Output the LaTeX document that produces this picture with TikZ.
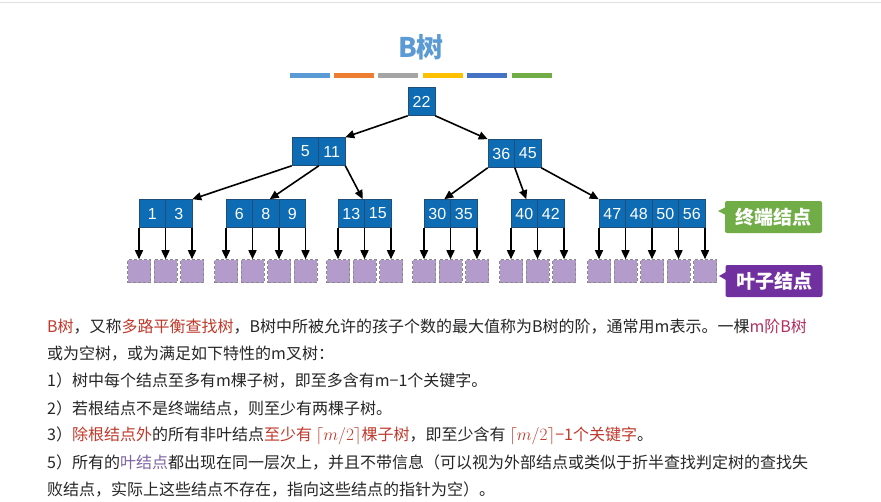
\documentclass[tikz,border=0pt]{standalone}
\usepackage{fontspec}
\setmainfont{Noto Sans CJK SC}
\newfontfamily\keyfont{Liberation Sans}
\usetikzlibrary{arrows.meta,calc}
\definecolor{keyblue}{HTML}{0D6CB4}
\definecolor{keyborder}{HTML}{1F4E79}
\definecolor{leafpurple}{HTML}{B39CCC}
\definecolor{leafborder}{HTML}{8A8A8A}
\definecolor{titleblue}{HTML}{5B9BD5}
\definecolor{termgreen}{HTML}{70AD47}
\definecolor{leafviolet}{HTML}{7030A0}
\definecolor{redtxt}{HTML}{C0392B}
\definecolor{magtxt}{HTML}{B0305E}
\definecolor{purtxt}{HTML}{7E63A6}
\definecolor{txt}{HTML}{262626}
\definecolor{barA}{HTML}{5B9BD5}
\definecolor{barB}{HTML}{ED7D31}
\definecolor{barC}{HTML}{A5A5A5}
\definecolor{barD}{HTML}{FFC000}
\definecolor{barE}{HTML}{4472C4}
\definecolor{barF}{HTML}{70AD47}
\newcommand\mkbnode[4]{%
  \foreach \v [count=\i from 0] in {#4} {\node[key] (#1\i) at ({#2+13.25+26.5*\i},213.5) {\v};}
  \foreach \i in {0,...,#3} {
    \coordinate (#1T\i) at ({#2+26.5*\i},228);
    \node[leaf] (#1L\i) at ({#2+26.5*\i},271) {};
    \draw[tarr] (#1T\i) -- (#1L\i);
  }}
\begin{document}
\begin{tikzpicture}[x=1pt,y=-1pt,
  key/.style={draw=keyborder, line width=0.6pt, fill=keyblue, text=white, minimum width=26.5pt, minimum height=28pt, inner sep=0pt, font=\keyfont\fontsize{16}{16}\selectfont},
  leaf/.style={draw=leafborder, densely dashed, line width=0.6pt, fill=leafpurple, minimum size=23pt, inner sep=0pt},
  tarr/.style={line width=1.6pt, -{Triangle[length=9pt,width=8pt]}},
  bar/.style={line width=5pt},
  callout/.style={rounded corners=2pt, minimum width=97pt, minimum height=32pt, inner sep=0pt, text=white, font=\fontsize{19}{19}\selectfont\bfseries},
  para/.style={anchor=west, inner sep=0pt, text=txt, font=\fontsize{16}{16}\selectfont}]
\useasboundingbox (0,0) rectangle (881,501);
\fill[white] (0,0) rectangle (881,501);
\draw[black!12, line width=1pt] (0,2) -- (881,2);
% title
\node[font=\fontsize{27}{27}\selectfont\bfseries, text=titleblue] (title) at (421,47) {B树};
\draw[bar, barA] (290,75) -- (330,75);
\draw[bar, barB] (334,75) -- (374,75);
\draw[bar, barC] (378,75) -- (418,75);
\draw[bar, barD] (423,75) -- (463,75);
\draw[bar, barE] (467,75) -- (507,75);
\draw[bar, barF] (512,75) -- (552,75);
% tree
\node[key, minimum width=27pt] (r) at (421.5,101.5) {22};
\node[key] (a1) at (305.25,151.5) {5};
\node[key] (a2) at (331.75,151.5) {11};
\node[key] (b1) at (501.25,153.5) {36};
\node[key] (b2) at (527.75,153.5) {45};
\mkbnode{c}{139}{2}{1,3}
\mkbnode{d}{226}{3}{6,8,9}
\mkbnode{e}{338}{2}{13,15}
\mkbnode{f}{424}{2}{30,35}
\mkbnode{g}{511}{2}{40,42}
\mkbnode{h}{599}{4}{47,48,50,56}
\draw[tarr] (r.south west) -- (a2.north east);
\draw[tarr] (r.south east) -- (b1.north west);
\draw[tarr] (a1.south west) -- (c1.north east);
\draw[tarr] (a1.south east) -- ($(d1.north)+(4,0)$);
\draw[tarr] (a2.south east) -- ($(e0.north east)+(-2,0)$);
\draw[tarr] (b1.south west) -- ($(f0.north)+(7,0)$);
\draw[tarr] (b1.south east) -- ($(g0.north)+(2,0)$);
\draw[tarr] (b2.south east) -- (h0.north west);
% callouts
\node[callout, fill=termgreen] (term) at (773.5,217) {终端结点};
\fill[termgreen] (726,207) -- (718,211) -- (726,215) -- cycle;
\node[callout, fill=leafviolet] (leafl) at (774,281) {叶子结点};
\fill[leafviolet] (726,272) -- (719,276) -- (726,280) -- cycle;
% paragraph
\node[para] (l1) at (47,327) {\textcolor{redtxt}{B树}，又称\textcolor{redtxt}{多路平衡查找树}，B树中所被允许的孩子个数的最大值称为B树的阶，通常用m表示。一棵\textcolor{magtxt}{m阶B树}};
\node[para] (l2) at (47,354) {或为空树，或为满足如下特性的m叉树：};
\node[para] (l3) at (47,381) {1）树中每个结点至多有m棵子树，即至多含有m−1个关键字。};
\node[para] (l4) at (47,409) {2）若根结点不是终端结点，则至少有两棵子树。};
\node[para] (l5) at (47,436) {3）\textcolor{redtxt}{除根结点外}的所有非叶结点\textcolor{redtxt}{至少有 $\lceil m/2\rceil$棵子树}，即至少含有 \textcolor{redtxt}{$\lceil m/2\rceil$−1个关键字}。};
\node[para] (l6) at (47,463) {5）所有的\textcolor{purtxt}{叶结点}都出现在同一层次上，并且不带信息（可以视为外部结点或类似于折半查找判定树的查找失};
\node[para] (l7) at (47,490) {败结点，实际上这些结点不存在，指向这些结点的指针为空）。};
\end{tikzpicture}
\end{document}
